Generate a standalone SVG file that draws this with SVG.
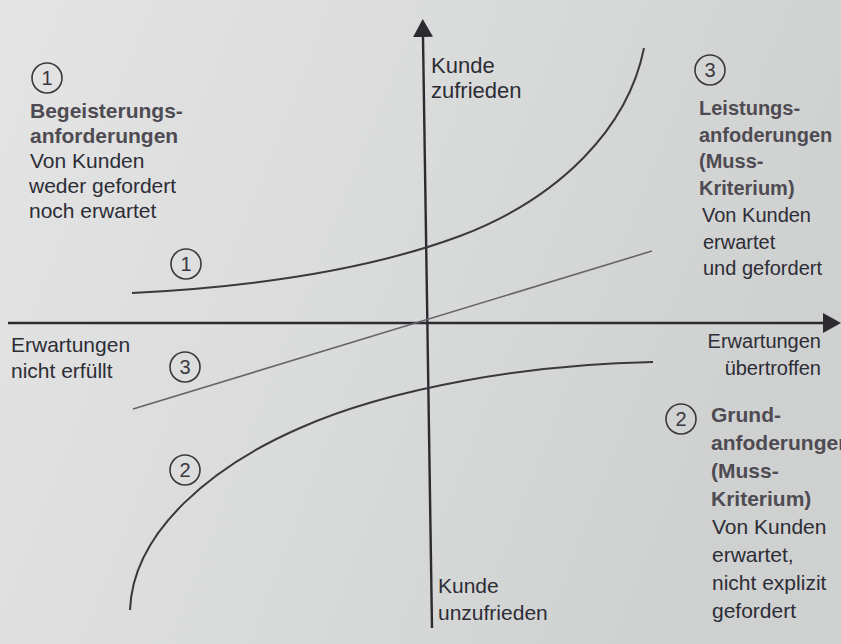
<svg xmlns="http://www.w3.org/2000/svg" width="841" height="644" viewBox="0 0 841 644">
  <defs>
    <linearGradient id="bg" x1="0" y1="0" x2="1" y2="0.3">
      <stop offset="0" stop-color="#e3e4e3"/>
      <stop offset="0.5" stop-color="#dadbdb"/>
      <stop offset="1" stop-color="#cfd0d0"/>
    </linearGradient>
    <marker id="arr" viewBox="0 0 20 20" refX="0" refY="10" markerWidth="20" markerHeight="20" markerUnits="userSpaceOnUse" orient="auto">
      <path d="M0,0 L18,10 L0,20 Z" fill="#2e2b30"/>
    </marker>
    <style>
      .t { font-family: "Liberation Sans", Arial, sans-serif; font-size: 20px; fill: #2d2d36; }
      .b { font-weight: bold; fill: #4e4b52; }
      .axis { stroke: #2e2b30; stroke-width: 2.4; fill: none; }
      .curve { stroke: #3a383e; stroke-width: 2; fill: none; }
      .line3 { stroke: #66646a; stroke-width: 1.6; fill: none; }
      .circ { stroke: #3a383e; stroke-width: 1.6; fill: none; }
      .num { font-family: "Liberation Sans", Arial, sans-serif; font-size: 20px; fill: #3a383e; text-anchor: middle; }
    </style>
  </defs>
  <rect x="0" y="0" width="841" height="644" fill="url(#bg)"/>

  <g id="connectors">
    <line class="axis" x1="432" y1="628" x2="423" y2="37" marker-end="url(#arr)"/>
    <line class="axis" x1="8" y1="323" x2="823" y2="323" marker-end="url(#arr)"/>
    <path class="curve" d="M132,293 C290,285 390,262 460,236 C560,198 628,128 644,48"/>
    <path class="line3" d="M133,409 L652,251"/>
    <path class="curve" d="M130,610 C133,530 215,465 300,428 C390,388 530,364 653,362"/>
  </g>

  <g id="marker-1-curve">
    <circle class="circ" cx="186" cy="264" r="15"/>
    <text class="num" x="186" y="271">1</text>
  </g>
  <g id="marker-3-line">
    <circle class="circ" cx="185" cy="367" r="15"/>
    <text class="num" x="185" y="374">3</text>
  </g>
  <g id="marker-2-curve">
    <circle class="circ" cx="185" cy="470" r="15"/>
    <text class="num" x="185" y="477">2</text>
  </g>

  <g id="label-kunde-zufrieden">
    <text class="t" x="431" y="73" style="font-size:22px">Kunde</text>
    <text class="t" x="431" y="98" style="font-size:22px">zufrieden</text>
  </g>
  <g id="label-kunde-unzufrieden">
    <text class="t" x="438" y="593" style="font-size:21px">Kunde</text>
    <text class="t" x="438" y="620" style="font-size:21px">unzufrieden</text>
  </g>
  <g id="label-erwartungen-nicht-erfuellt">
    <text class="t" x="11" y="352" style="font-size:21px">Erwartungen</text>
    <text class="t" x="11" y="378" style="font-size:21px">nicht erfüllt</text>
  </g>
  <g id="label-erwartungen-uebertroffen">
    <text class="t" x="821" y="348" text-anchor="end">Erwartungen</text>
    <text class="t" x="821" y="375" text-anchor="end">übertroffen</text>
  </g>

  <g id="block-1-begeisterung">
    <circle class="circ" cx="47" cy="78" r="15"/>
    <text class="num" x="47" y="85">1</text>
    <text class="t b" x="30" y="118" style="font-size:21px">Begeisterungs-</text>
    <text class="t b" x="30" y="143" style="font-size:21px">anforderungen</text>
    <text class="t" x="30" y="168" style="font-size:21px">Von Kunden</text>
    <text class="t" x="29" y="193" style="font-size:21px">weder gefordert</text>
    <text class="t" x="29" y="218" style="font-size:21px">noch erwartet</text>
  </g>

  <g id="block-3-leistung">
    <circle class="circ" cx="710" cy="70" r="15"/>
    <text class="num" x="710" y="77">3</text>
    <text class="t b" x="699" y="115">Leistungs-</text>
    <text class="t b" x="699" y="142">anfoderungen</text>
    <text class="t b" x="699" y="168">(Muss-</text>
    <text class="t b" x="699" y="195">Kriterium)</text>
    <text class="t" x="702" y="222">Von Kunden</text>
    <text class="t" x="703" y="249">erwartet</text>
    <text class="t" x="703" y="275">und gefordert</text>
  </g>

  <g id="block-2-grund">
    <circle class="circ" cx="681" cy="419" r="15"/>
    <text class="num" x="681" y="426">2</text>
    <text class="t b" x="711" y="422" style="font-size:21px">Grund-</text>
    <text class="t b" x="711" y="450" style="font-size:21px">anfoderungen</text>
    <text class="t b" x="711" y="478" style="font-size:21px">(Muss-</text>
    <text class="t b" x="711" y="506" style="font-size:21px">Kriterium)</text>
    <text class="t" x="712" y="534" style="font-size:21px">Von Kunden</text>
    <text class="t" x="712" y="562" style="font-size:21px">erwartet,</text>
    <text class="t" x="712" y="590" style="font-size:21px">nicht explizit</text>
    <text class="t" x="712" y="618" style="font-size:21px">gefordert</text>
  </g>
</svg>
